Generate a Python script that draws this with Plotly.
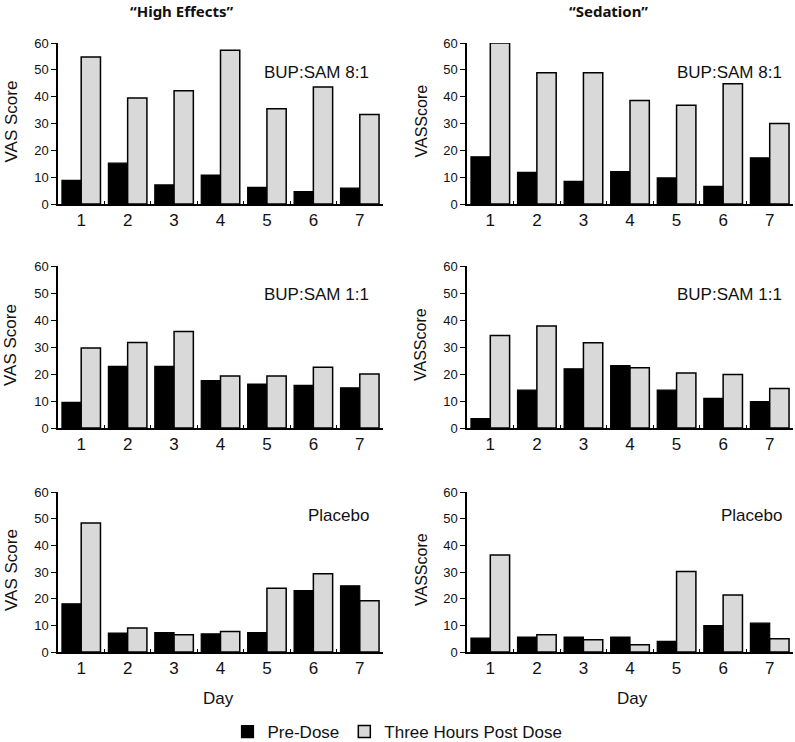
import plotly.graph_objects as go

days = ["1", "2", "3", "4", "5", "6", "7"]

# "High Effects"
he_81_pre = [8.8, 15.2, 7.1, 10.8, 6.2, 4.6, 5.9]
he_81_post = [54.8, 39.5, 42.2, 57.3, 35.5, 43.6, 33.4]
he_11_pre = [9.5, 22.8, 22.8, 17.6, 16.3, 15.8, 14.9]
he_11_post = [29.6, 31.7, 35.7, 19.3, 19.3, 22.5, 20.0]
he_pl_pre = [18.1, 7.1, 7.3, 6.8, 7.3, 23.0, 24.8]
he_pl_post = [48.4, 9.0, 6.5, 7.7, 23.9, 29.3, 19.2]

# "Sedation"
se_81_pre = [17.6, 11.8, 8.4, 12.1, 9.7, 6.6, 17.2]
se_81_post = [60.0, 48.9, 48.9, 38.6, 36.8, 44.8, 30.0]
se_11_pre = [3.5, 14.0, 21.9, 23.1, 14.0, 11.0, 9.8]
se_11_post = [34.3, 37.8, 31.6, 22.3, 20.4, 19.8, 14.6]
se_pl_pre = [5.2, 5.6, 5.6, 5.6, 4.0, 9.9, 10.8]
se_pl_post = [36.4, 6.5, 4.6, 2.7, 30.2, 21.4, 5.0]

series_names = ["Pre-Dose", "Three Hours Post Dose"]
col_titles = ["\u201cHigh Effects\u201d", "\u201cSedation\u201d"]
panel_labels = ["BUP:SAM 8:1", "BUP:SAM 1:1", "Placebo"]
y_ticks = [0, 10, 20, 30, 40, 50, 60]
y_titles = ["VAS Score", "VASScore"]

W, H = 795, 742
FONT = "Liberation Sans, Arial, sans-serif"

panels = [
    (0, 0, he_81_pre, he_81_post),
    (0, 1, se_81_pre, se_81_post),
    (1, 0, he_11_pre, he_11_post),
    (1, 1, se_11_pre, se_11_post),
    (2, 0, he_pl_pre, he_pl_post),
    (2, 1, se_pl_pre, se_pl_post),
]

col_x = [(58, 383), (467, 793)]
row_y = [(43, 204), (266, 428), (492, 652)]


def fx(px):
    return px / W


def fy(py):
    return 1 - py / H


fig = go.Figure()
layout = dict(
    width=W, height=H,
    margin=dict(l=0, r=0, t=0, b=0, autoexpand=False),
    paper_bgcolor="white", plot_bgcolor="white",
    barmode="group", bargap=0.17, bargroupgap=0.0,
    font=dict(family=FONT, color="#111"),
    showlegend=True,
    legend=dict(orientation="h", x=0.5, xanchor="center", y=fy(732), yanchor="middle",
                font=dict(size=17, family=FONT, color="#111"),
                itemwidth=30, traceorder="normal"),
)
annotations = []

for i, (r, c, pre, post) in enumerate(panels):
    n = i + 1
    xa = "x" if n == 1 else f"x{n}"
    ya = "y" if n == 1 else f"y{n}"
    fig.add_trace(go.Bar(x=days, y=pre, name=series_names[0], xaxis=xa, yaxis=ya,
                         marker=dict(color="black", line=dict(color="black", width=1.2)),
                         showlegend=(n == 1), legendgroup="pre"))
    fig.add_trace(go.Bar(x=days, y=post, name=series_names[1], xaxis=xa, yaxis=ya,
                         marker=dict(color="#d9d9d9", line=dict(color="black", width=1.5)),
                         showlegend=(n == 1), legendgroup="post"))
    x0, x1 = col_x[c]
    y0, y1 = row_y[r]
    layout[f"xaxis{'' if n == 1 else n}"] = dict(
        domain=[fx(x0), fx(x1)], anchor=ya, type="category",
        showline=True, linecolor="black", linewidth=1.5,
        ticks="inside", ticklen=3, tickcolor="black", tickson="boundaries",
        showgrid=False, zeroline=False,
        tickfont=dict(size=17, family=FONT, color="#111"),
        showticklabels=True,
    )
    layout[f"yaxis{'' if n == 1 else n}"] = dict(
        domain=[fy(y1), fy(y0)], anchor=xa, range=[0, 60],
        tickvals=y_ticks, ticks="outside", ticklen=5, tickcolor="black",
        showline=True, linecolor="black", linewidth=1.5,
        showgrid=False, zeroline=False,
        tickfont=dict(size=13, family=FONT, color="#111"),
    )
    annotations.append(dict(
        text=y_titles[c], textangle=-90, x=fx(11 if c == 0 else 421),
        y=fy((y0 + y1) / 2 - 2), xref="paper", yref="paper",
        showarrow=False, xanchor="center", yanchor="middle",
        font=dict(size=17 if c == 0 else 16, family=FONT, color="#111"),
    ))
    annotations.append(dict(
        text=panel_labels[r], x=fx(371 if c == 0 else 784),
        y=fy([72, 294, 515][r]), xref="paper", yref="paper",
        showarrow=False, xanchor="right", yanchor="middle",
        font=dict(size=17, family=FONT, color="#111"),
    ))

for c, t in enumerate(col_titles):
    annotations.append(dict(
        text=f"<b>{t}</b>", x=fx([181, 608][c]), y=fy(11), xref="paper", yref="paper",
        showarrow=False, xanchor="center", yanchor="middle",
        font=dict(size=15, family="Noto Sans, sans-serif", color="#111"),
    ))

for c in range(2):
    annotations.append(dict(
        text="Day", x=fx([218, 632][c]), y=fy(698), xref="paper", yref="paper",
        showarrow=False, xanchor="center", yanchor="middle",
        font=dict(size=17, family=FONT, color="#111"),
    ))

layout["annotations"] = annotations
fig.update_layout(**layout)
fig.write_html("out.html", config={"displayModeBar": False},
               post_script="document.body.style.margin='0';document.body.style.overflow='hidden';")
